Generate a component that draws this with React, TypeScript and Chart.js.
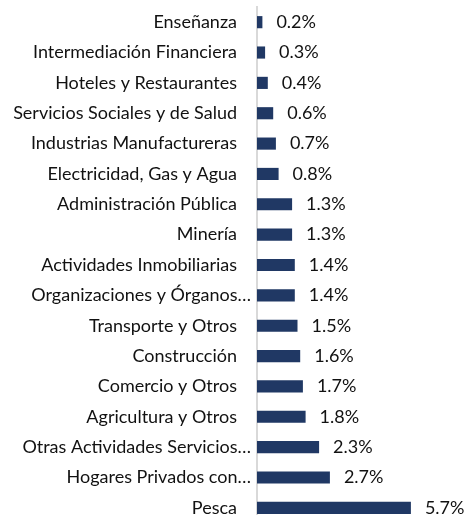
import React, { useEffect, useRef } from "react";
import { Chart, registerables } from "chart.js";

Chart.register(...registerables);

const categories = [
  "Enseñanza",
  "Intermediación Financiera",
  "Hoteles y Restaurantes",
  "Servicios Sociales y de Salud",
  "Industrias Manufactureras",
  "Electricidad, Gas y Agua",
  "Administración Pública",
  "Minería",
  "Actividades Inmobiliarias",
  "Organizaciones y Órganos…",
  "Transporte y Otros",
  "Construcción",
  "Comercio y Otros",
  "Agricultura y Otros",
  "Otras Actividades Servicios…",
  "Hogares Privados con…",
  "Pesca",
];

const values = [0.2, 0.3, 0.4, 0.6, 0.7, 0.8, 1.3, 1.3, 1.4, 1.4, 1.5, 1.6, 1.7, 1.8, 2.3, 2.7, 5.7];

const FONT = "Lato, 'Open Sans', sans-serif";
const TEXT_COLOR = "#111111";
const BAR_COLOR = "#203864";

const labelsPlugin = {
  id: "customLabels",
  afterDatasetsDraw(chart: any) {
    const ctx = chart.ctx;
    const meta = chart.getDatasetMeta(0);
    const yScale = chart.scales.y;
    const xScale = chart.scales.x;
    const axisX = xScale.getPixelForValue(0);
    ctx.save();
    ctx.font = `18px ${FONT}`;
    ctx.fillStyle = TEXT_COLOR;
    ctx.textBaseline = "middle";
    categories.forEach((c, i) => {
      const y = yScale.getPixelForValue(i);
      ctx.textAlign = "right";
      const truncated = c.endsWith("…");
      ctx.fillText(c, axisX - (truncated ? 6 : 20), y);
    });
    meta.data.forEach((bar: any, i: number) => {
      ctx.textAlign = "left";
      ctx.fillText(values[i].toFixed(1) + "%", bar.x + 14, bar.y);
    });
    ctx.restore();
  },
};

export default function App() {
  const ref = useRef<HTMLCanvasElement>(null);
  useEffect(() => {
    if (!ref.current) return;
    const chart = new Chart(ref.current, {
      type: "bar",
      data: {
        labels: categories,
        datasets: [
          {
            data: values,
            backgroundColor: BAR_COLOR,
            barPercentage: 0.4,
            categoryPercentage: 1,
          },
        ],
      },
      options: {
        indexAxis: "y",
        animation: false,
        responsive: false,
        devicePixelRatio: 1,
        layout: { padding: { left: 257, right: 23, top: 7, bottom: 7 } },
        plugins: { legend: { display: false }, tooltip: { enabled: false } },
        scales: {
          x: { display: false, min: 0, max: 7 },
          y: {
            ticks: { display: false },
            grid: { display: false, drawTicks: false },
            border: { display: true, color: "#d9d9d9", width: 2 },
          },
        },
      },
      plugins: [labelsPlugin],
    });
    return () => chart.destroy();
  }, []);
  return (
    <div
      style={{
        position: "fixed",
        top: 0,
        left: 0,
        width: 469,
        height: 515,
        overflow: "hidden",
        background: "#fff",
      }}
    >
      <canvas ref={ref} width={469} height={530} style={{ display: "block" }} />
    </div>
  );
}
